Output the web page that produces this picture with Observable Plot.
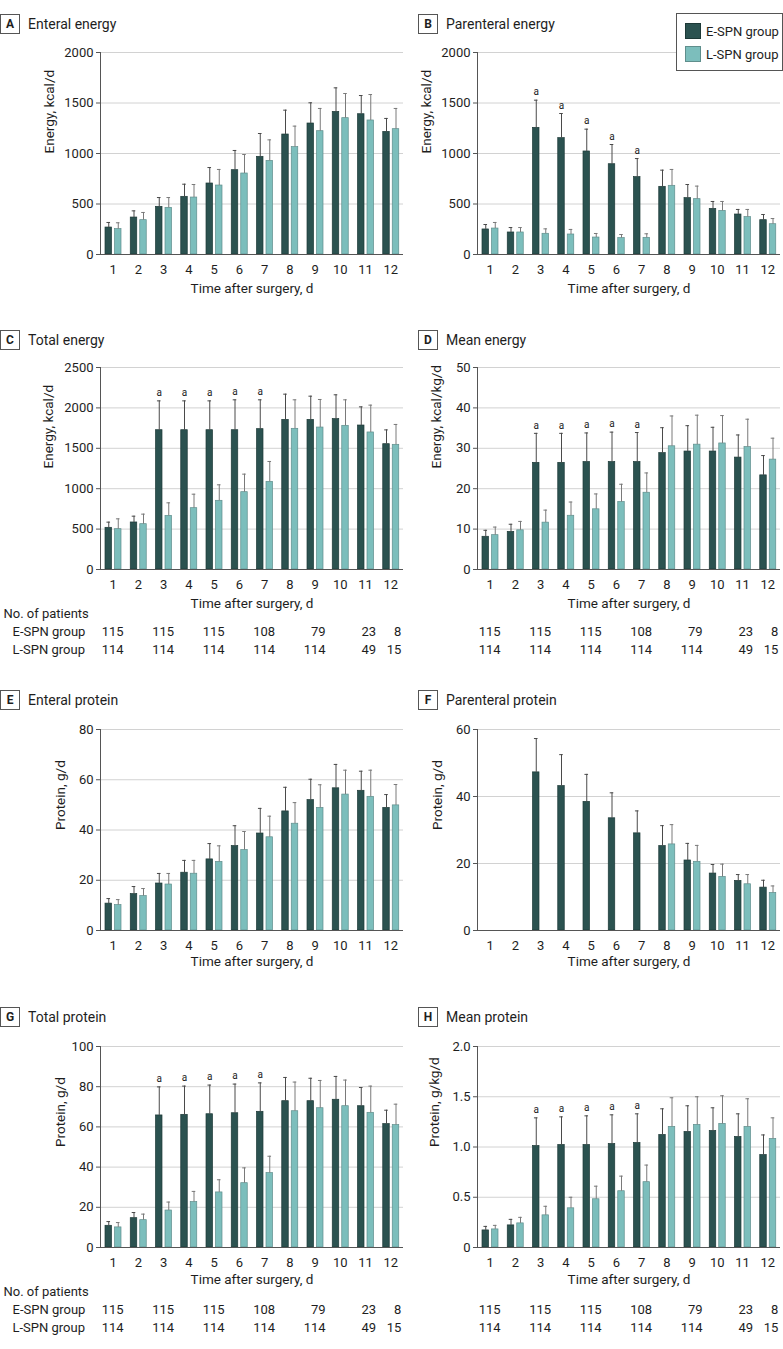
<!DOCTYPE html>
<html>
<head>
<meta charset="utf-8">
<script src="https://cdn.jsdelivr.net/npm/d3@7"></script>
<script src="https://cdn.jsdelivr.net/npm/@observablehq/plot@0.6"></script>
<style>
  body { margin: 0; background: #fff; font-family: Roboto, "Noto Sans", sans-serif; color: #1e1e1e; }
  #root { position: relative; width: 783px; height: 1349px; overflow: hidden; background: #fff; }
  .panel { position: absolute; }
  .hdr { position: absolute; display: flex; align-items: center; height: 20px; }
  .box { width: 20px; height: 20px; box-sizing: border-box; border: 1px solid #555; font-weight: bold; font-size: 12px; display: flex; align-items: center; justify-content: center; }
  .ttl { margin-left: 8px; font-size: 14px; }
  .legend { position: absolute; left: 676px; top: 13px; width: 107px; height: 58px; box-sizing: border-box; border: 1px solid #555; background: #fff; }
  .lg-row { position: absolute; left: 8px; display: flex; align-items: center; font-size: 13px; }
  .sw { width: 16px; height: 16px; box-sizing: border-box; margin-right: 5px; }
</style>
</head>
<body>
<div id="root"></div>
<script>
// ---------- shared categories ----------
const days = [1, 2, 3, 4, 5, 6, 7, 8, 9, 10, 11, 12];
const groups = ["E-SPN group", "L-SPN group"];
const sigDays = [3, 4, 5, 6, 7];
const xAxisLabel = "Time after surgery, d";

// patient counts table
const tableDays = [1, 3, 5, 7, 9, 11, 12];
const patientsE = [115, 115, 115, 108, 79, 23, 8];
const patientsL = [114, 114, 114, 114, 114, 49, 15];
const tableLabels = ["No. of patients", "E-SPN group", "L-SPN group"];

// ---------- A Enteral energy (mean, SD) ----------
const enteralEnergyE   = [267, 366, 472, 571, 703, 835, 967, 1188, 1297, 1412, 1389, 1214];
const enteralEnergyESD = [50, 66, 92, 125, 158, 195, 231, 241, 205, 238, 185, 133];
const enteralEnergyL   = [251, 340, 462, 564, 683, 802, 927, 1063, 1221, 1350, 1327, 1241];
const enteralEnergyLSD = [63, 76, 102, 129, 159, 188, 208, 208, 225, 244, 257, 205];

// ---------- B Parenteral energy ----------
const parenteralEnergyE   = [248, 218, 1254, 1152, 1020, 894, 766, 670, 558, 452, 396, 340];
const parenteralEnergyESD = [49, 49, 274, 244, 221, 195, 184, 165, 135, 73, 50, 56];
const parenteralEnergyL   = [257, 218, 205, 198, 168, 162, 165, 680, 548, 432, 370, 300];
const parenteralEnergyLSD = [60, 49, 49, 50, 40, 36, 40, 162, 129, 93, 76, 56];

// ---------- C Total energy ----------
const totalEnergyE   = [516, 582, 1724, 1724, 1724, 1724, 1737, 1852, 1852, 1861, 1782, 1551];
const totalEnergyESD = [70, 78, 363, 363, 363, 376, 363, 318, 293, 301, 231, 177];
const totalEnergyL   = [499, 561, 664, 759, 850, 957, 1085, 1741, 1757, 1778, 1696, 1543];
const totalEnergyLSD = [128, 124, 161, 173, 198, 223, 252, 359, 347, 322, 338, 252];

// ---------- D Mean energy ----------
const meanEnergyE   = [8.1, 9.3, 26.4, 26.4, 26.6, 26.6, 26.6, 28.8, 29.2, 29.2, 27.7, 23.3];
const meanEnergyESD = [1.6, 1.9, 7.3, 7.3, 7.2, 7.4, 7.3, 6.3, 6.4, 6.0, 5.6, 4.9];
const meanEnergyL   = [8.5, 9.7, 11.6, 13.3, 14.9, 16.7, 19.0, 30.5, 30.9, 31.2, 30.3, 27.2];
const meanEnergyLSD = [2.0, 2.2, 3.1, 3.4, 3.8, 4.4, 4.9, 7.5, 7.3, 6.9, 6.9, 5.3];

// ---------- E Enteral protein ----------
const enteralProteinE   = [10.7, 14.5, 18.7, 23.0, 28.3, 33.6, 38.6, 47.4, 51.9, 56.6, 55.6, 48.8];
const enteralProteinESD = [2.0, 3.0, 4.0, 4.9, 6.3, 8.1, 10.0, 9.6, 8.3, 9.5, 7.8, 5.3];
const enteralProteinL   = [10.1, 13.7, 18.3, 22.6, 27.3, 32.0, 37.1, 42.5, 48.8, 54.1, 53.2, 49.8];
const enteralProteinLSD = [2.2, 3.0, 4.4, 5.3, 6.4, 7.4, 8.4, 8.4, 9.2, 9.7, 10.6, 8.3];

// ---------- F Parenteral protein ----------
const parenteralProteinE   = [null, null, 47.2, 43.1, 38.4, 33.5, 29.0, 25.2, 20.9, 17.0, 14.8, 12.8];
const parenteralProteinESD = [null, null, 10.1, 9.4, 8.2, 7.6, 6.7, 6.1, 5.1, 2.7, 1.9, 2.2];
const parenteralProteinL   = [null, null, null, null, null, null, null, 25.7, 20.5, 16.0, 13.8, 11.2];
const parenteralProteinLSD = [null, null, null, null, null, null, null, 5.9, 4.9, 3.8, 2.9, 2.1];

// ---------- G Total protein ----------
const totalProteinE   = [10.8, 14.6, 65.7, 66.0, 66.3, 66.8, 67.5, 72.8, 72.8, 73.5, 70.3, 61.4];
const totalProteinESD = [2.1, 2.8, 14.2, 14.3, 14.5, 14.5, 14.4, 11.8, 11.4, 11.6, 9.3, 6.9];
const totalProteinL   = [10.0, 13.6, 18.4, 22.6, 27.4, 32.0, 37.0, 67.8, 69.3, 70.3, 67.0, 60.9];
const totalProteinLSD = [2.4, 3.0, 4.2, 5.3, 6.3, 7.6, 8.4, 14.5, 13.8, 13.0, 13.3, 10.4];

// ---------- H Mean protein ----------
const meanProteinE   = [0.17, 0.22, 1.01, 1.02, 1.02, 1.03, 1.04, 1.12, 1.15, 1.16, 1.10, 0.92];
const meanProteinESD = [0.04, 0.06, 0.28, 0.28, 0.29, 0.29, 0.29, 0.26, 0.26, 0.23, 0.23, 0.20];
const meanProteinL   = [0.18, 0.24, 0.32, 0.39, 0.48, 0.56, 0.65, 1.20, 1.22, 1.23, 1.20, 1.08];
const meanProteinLSD = [0.04, 0.06, 0.09, 0.11, 0.13, 0.15, 0.17, 0.29, 0.28, 0.28, 0.28, 0.21];

// ---------- styling ----------
const colorE = "#2b5250", colorL = "#7cbebc";
const strokeE = "#1d3937", strokeL = "#5f8e8c";
const axisColor = "#555";
const plotW = 303;
const fontStack = "Roboto, 'Noto Sans', sans-serif";

const root = document.getElementById("root");

function header(letter, title, left, cy) {
  const h = document.createElement("div");
  h.className = "hdr";
  h.style.left = left + "px";
  h.style.top = (cy - 10) + "px";
  h.innerHTML = `<div class="box">${letter}</div><div class="ttl">${title}</div>`;
  root.appendChild(h);
}

function panel(cfg) {
  const {col, top, plotH, mb, eV, eSD, lV, lSD, domain, ticks, fmt, yLabel, labelDx,
         sig, table, rowLabels, xLabelDy} = cfg;
  const ml = col === 0 ? 100 : 87;
  const mr = col === 0 ? 2 : 3;
  const width = ml + plotW + mr;
  const mt = 10;
  const height = mt + plotH + mb;
  const bw = plotW / days.length;

  const rows = [];
  days.forEach((d, i) => {
    if (eV[i] != null) rows.push({day: d, group: groups[0], value: eV[i], upper: eV[i] + eSD[i]});
    if (lV[i] != null) rows.push({day: d, group: groups[1], value: lV[i], upper: lV[i] + lSD[i]});
  });
  const E = rows.filter(r => r.group === groups[0]);
  const L = rows.filter(r => r.group === groups[1]);
  // bar geometry within a band (pixels)
  const eIL = 5, eW = 6.5, gap = 3;
  const lIL = eIL + eW + gap;
  const eC = eIL + eW / 2, lC = lIL + eW / 2;
  const capHalf = 1.8;

  const marks = [
    Plot.gridY(ticks.filter(t => t > 0), {stroke: "#d2d2d2", strokeOpacity: 1}),
    Plot.axisY(ticks, {tickSize: 4, tickPadding: 3, tickFormat: fmt, label: null, stroke: axisColor, fontSize: 13}),
    Plot.axisX({tickSize: 0, tickPadding: 10, label: null, fontSize: 13}),
    Plot.barY(E, {x: "day", y: "value", fill: colorE, stroke: strokeE, strokeWidth: 0.7,
                  insetLeft: eIL, insetRight: bw - eIL - eW}),
    Plot.barY(L, {x: "day", y: "value", fill: colorL, stroke: strokeL, strokeWidth: 0.7,
                  insetLeft: lIL, insetRight: bw - lIL - eW}),
    Plot.ruleX(E, {x: "day", y1: "value", y2: "upper", dx: eC - bw / 2, stroke: "#4a4a4a", strokeWidth: 1}),
    Plot.ruleX(L, {x: "day", y1: "value", y2: "upper", dx: lC - bw / 2, stroke: "#7a7a7a", strokeWidth: 1}),
    Plot.tickY(E, {x: "day", y: "upper", insetLeft: eC - capHalf, insetRight: bw - eC - capHalf, stroke: "#4a4a4a", strokeWidth: 1}),
    Plot.tickY(L, {x: "day", y: "upper", insetLeft: lC - capHalf, insetRight: bw - lC - capHalf, stroke: "#7a7a7a", strokeWidth: 1}),
    Plot.ruleX([days[0]], {x: d => d, y1: domain[0], y2: domain[1], dx: -bw / 2, stroke: axisColor}),
    Plot.ruleY([0], {stroke: axisColor}),
    Plot.text([xAxisLabel], {text: d => d, frameAnchor: "bottom", dy: xLabelDy, fontSize: 13.5}),
    Plot.text([yLabel], {text: d => d, frameAnchor: "left", rotate: -90, dx: labelDx, fontSize: 13.5})
  ];
  if (sig) {
    marks.push(Plot.text(E.filter(r => sigDays.includes(r.day)), {
      x: "day", y: "upper", text: () => "a", dx: eC - bw / 2, dy: -8, fontSize: 10
    }));
  }
  if (table) {
    const tE = tableDays.map((d, i) => ({day: d, n: patientsE[i]}));
    const tL = tableDays.map((d, i) => ({day: d, n: patientsL[i]}));
    marks.push(Plot.text(tE, {x: "day", text: "n", frameAnchor: "bottom", dy: 66, dx: 10.5, textAnchor: "end", fontSize: 13}));
    marks.push(Plot.text(tL, {x: "day", text: "n", frameAnchor: "bottom", dy: 84, dx: 10.5, textAnchor: "end", fontSize: 13}));
    if (rowLabels) {
      marks.push(Plot.text([tableLabels[0]], {text: d => d, frameAnchor: "bottom-left", dx: -97, dy: 48, textAnchor: "start", fontSize: 13}));
      marks.push(Plot.text([tableLabels[1]], {text: d => d, frameAnchor: "bottom-left", dx: -88, dy: 66, textAnchor: "start", fontSize: 13}));
      marks.push(Plot.text([tableLabels[2]], {text: d => d, frameAnchor: "bottom-left", dx: -88, dy: 84, textAnchor: "start", fontSize: 13}));
    }
  }

  const svg = Plot.plot({
    width, height, marginLeft: ml, marginRight: mr, marginTop: mt, marginBottom: mb,
    x: {type: "band", domain: days, padding: 0, round: false, axis: null},
    y: {domain, axis: null},
    style: {background: "transparent", fontFamily: fontStack, fontSize: "13px", color: "#1e1e1e", overflow: "visible"},
    marks
  });
  const div = document.createElement("div");
  div.className = "panel";
  div.style.left = (col === 0 ? 0 : 390) + "px";
  div.style.top = (top - mt) + "px";
  div.style.width = width + "px";
  div.appendChild(svg);
  root.appendChild(div);
}

const fmtInt = d => String(d);
const fmtH = d => d === 0 ? "0" : d.toFixed(1);

// Row 1
header("A", "Enteral energy", 0, 24);
header("B", "Parenteral energy", 418, 24);
panel({col: 0, top: 52, plotH: 202, mb: 50, eV: enteralEnergyE, eSD: enteralEnergyESD, lV: enteralEnergyL, lSD: enteralEnergyLSD,
  domain: [0, 2000], ticks: [0, 500, 1000, 1500, 2000], fmt: fmtInt, yLabel: "Energy, kcal/d", labelDx: -51, sig: false, xLabelDy: 38});
panel({col: 1, top: 52, plotH: 202, mb: 50, eV: parenteralEnergyE, eSD: parenteralEnergyESD, lV: parenteralEnergyL, lSD: parenteralEnergyLSD,
  domain: [0, 2000], ticks: [0, 500, 1000, 1500, 2000], fmt: fmtInt, yLabel: "Energy, kcal/d", labelDx: -51, sig: true, xLabelDy: 38});

// Row 2
header("C", "Total energy", 0, 340);
header("D", "Mean energy", 418, 340);
panel({col: 0, top: 367, plotH: 202, mb: 95, eV: totalEnergyE, eSD: totalEnergyESD, lV: totalEnergyL, lSD: totalEnergyLSD,
  domain: [0, 2500], ticks: [0, 500, 1000, 1500, 2000, 2500], fmt: fmtInt, yLabel: "Energy, kcal/d", labelDx: -52, sig: true, table: true, rowLabels: true, xLabelDy: 38});
panel({col: 1, top: 367, plotH: 202, mb: 95, eV: meanEnergyE, eSD: meanEnergyESD, lV: meanEnergyL, lSD: meanEnergyLSD,
  domain: [0, 50], ticks: [0, 10, 20, 30, 40, 50], fmt: fmtInt, yLabel: "Energy, kcal/kg/d", labelDx: -41, sig: true, table: true, rowLabels: false, xLabelDy: 38});

// Row 3
header("E", "Enteral protein", 0, 700);
header("F", "Parenteral protein", 418, 700);
panel({col: 0, top: 729, plotH: 201, mb: 50, eV: enteralProteinE, eSD: enteralProteinESD, lV: enteralProteinL, lSD: enteralProteinLSD,
  domain: [0, 80], ticks: [0, 20, 40, 60, 80], fmt: fmtInt, yLabel: "Protein, g/d", labelDx: -40, sig: false, xLabelDy: 35});
panel({col: 1, top: 729, plotH: 201, mb: 50, eV: parenteralProteinE, eSD: parenteralProteinESD, lV: parenteralProteinL, lSD: parenteralProteinLSD,
  domain: [0, 60], ticks: [0, 20, 40, 60], fmt: fmtInt, yLabel: "Protein, g/d", labelDx: -40, sig: false, xLabelDy: 35});

// Row 4
header("G", "Total protein", 0, 1017);
header("H", "Mean protein", 418, 1017);
panel({col: 0, top: 1046, plotH: 201, mb: 95, eV: totalProteinE, eSD: totalProteinESD, lV: totalProteinL, lSD: totalProteinLSD,
  domain: [0, 100], ticks: [0, 20, 40, 60, 80, 100], fmt: fmtInt, yLabel: "Protein, g/d", labelDx: -40, sig: true, table: true, rowLabels: true, xLabelDy: 36});
panel({col: 1, top: 1046, plotH: 201, mb: 95, eV: meanProteinE, eSD: meanProteinESD, lV: meanProteinL, lSD: meanProteinLSD,
  domain: [0, 2], ticks: [0, 0.5, 1, 1.5, 2], fmt: fmtH, yLabel: "Protein, g/kg/d", labelDx: -43, sig: true, table: true, rowLabels: false, xLabelDy: 36});

// Legend
const lg = document.createElement("div");
lg.className = "legend";
lg.innerHTML =
  `<div class="lg-row" style="top:9px"><div class="sw" style="background:${colorE};border:1px solid ${strokeE}"></div>${groups[0]}</div>` +
  `<div class="lg-row" style="top:32px"><div class="sw" style="background:${colorL};border:1px solid ${strokeL}"></div>${groups[1]}</div>`;
root.appendChild(lg);
</script>
</body>
</html>
